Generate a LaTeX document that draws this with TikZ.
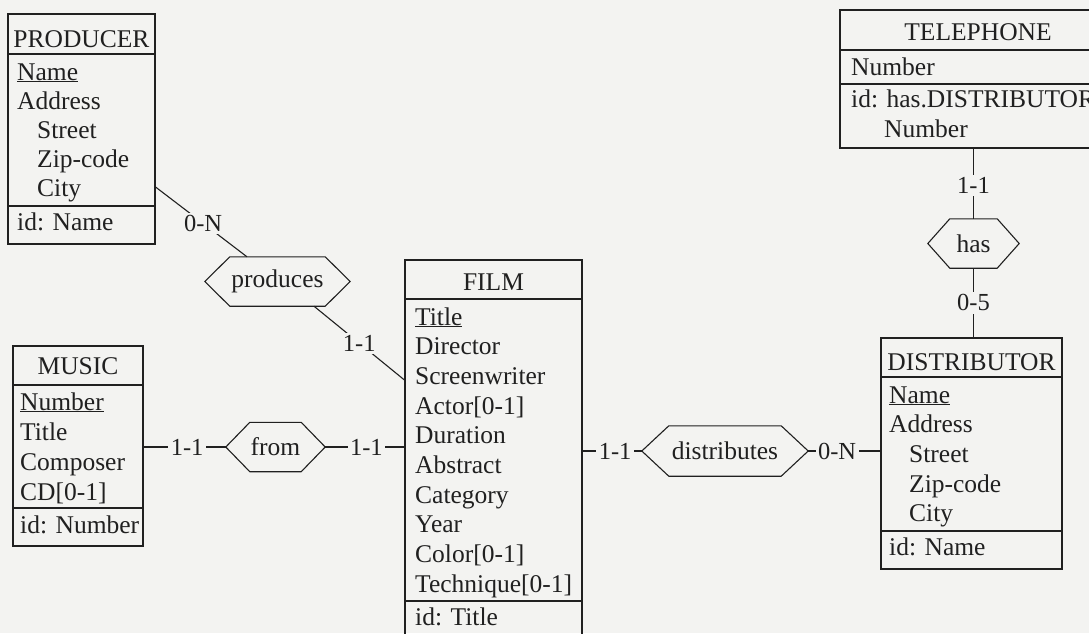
\documentclass[tikz,border=0pt]{standalone}
\usepackage{fontspec}
\setmainfont{Liberation Serif}
\definecolor{bg}{RGB}{243,243,241}
\definecolor{ink}{RGB}{32,32,32}
\tikzset{
  ent/.style={draw=ink, line width=1.1pt, inner sep=0pt, rectangle},
  sep/.style={draw=ink, line width=1.1pt},
  txt/.style={inner sep=0pt, anchor=base west, text=ink, font=\fontsize{25.5pt}{30pt}\selectfont},
  ttl/.style={txt, anchor=base},
  hex/.style={inner sep=0pt, minimum height=49pt, text=ink, font=\fontsize{25.5pt}{30pt}\selectfont},
  lbl/.style={fill=bg, inner sep=2.5pt, text=ink, font=\fontsize{24.5pt}{28pt}\selectfont},
  con/.style={draw=ink, line width=1.1pt},
}
\begin{document}
\begin{tikzpicture}[x=1pt,y=-1pt]
\useasboundingbox (0,0) rectangle (1089,633);
\fill[bg] (0,0) rectangle (1089,633);
\clip (0,0) rectangle (1089,633);

% ---------- entities ----------
\node[ent, minimum width=147pt, minimum height=230pt] (producer) at (81.5,129) {};
\draw[sep] (producer.west |- 0,54) -- (producer.east |- 0,54);
\draw[sep] (producer.west |- 0,206) -- (producer.east |- 0,206);
\node[ttl] (producer-t) at (81.5,47) {PRODUCER};
\node[txt] (producer-a1) at (17,80) {\underline{Name}};
\node[txt] (producer-a2) at (17,109) {Address};
\node[txt] (producer-a3) at (37,138) {Street};
\node[txt] (producer-a4) at (37,167) {Zip-code};
\node[txt] (producer-a5) at (37,196) {City};
\node[txt] (producer-id) at (17,230) {id: Name};

\node[ent, minimum width=130pt, minimum height=200pt] (music) at (78,446) {};
\draw[sep] (music.west |- 0,385) -- (music.east |- 0,385);
\draw[sep] (music.west |- 0,508) -- (music.east |- 0,508);
\node[ttl] (music-t) at (78,374) {MUSIC};
\node[txt] (music-a1) at (20,410) {\underline{Number}};
\node[txt] (music-a2) at (20,440) {Title};
\node[txt] (music-a3) at (20,470) {Composer};
\node[txt] (music-a4) at (20,500) {CD[0-1]};
\node[txt] (music-id) at (20,533) {id: Number};

\node[ent, minimum width=177pt, minimum height=390pt] (film) at (493.5,455) {};
\draw[sep] (film.west |- 0,299) -- (film.east |- 0,299);
\draw[sep] (film.west |- 0,601) -- (film.east |- 0,601);
\node[ttl] (film-t) at (493.5,290) {FILM};
\node[txt] (film-a1) at (415,325) {\underline{Title}};
\node[txt] (film-a2) at (415,354.7) {Director};
\node[txt] (film-a3) at (415,384.3) {Screenwriter};
\node[txt] (film-a4) at (415,414) {Actor[0-1]};
\node[txt] (film-a5) at (415,443.7) {Duration};
\node[txt] (film-a6) at (415,473.3) {Abstract};
\node[txt] (film-a7) at (415,503) {Category};
\node[txt] (film-a8) at (415,532.7) {Year};
\node[txt] (film-a9) at (415,562.3) {Color[0-1]};
\node[txt] (film-a10) at (415,592) {Technique[0-1]};
\node[txt] (film-id) at (415,625) {id: Title};

\node[ent, minimum width=276pt, minimum height=138pt] (telephone) at (978,79) {};
\draw[sep] (telephone.west |- 0,50) -- (telephone.east |- 0,50);
\draw[sep] (telephone.west |- 0,84) -- (telephone.east |- 0,84);
\node[ttl] (telephone-t) at (978,40) {TELEPHONE};
\node[txt] (telephone-a1) at (851,75) {Number};
\node[txt] (telephone-id1) at (851,107) {id: has.DISTRIBUTOR};
\node[txt] (telephone-id2) at (884,137) {Number};

\node[ent, minimum width=181pt, minimum height=231pt] (distributor) at (971.5,453.5) {};
\draw[sep] (distributor.west |- 0,377) -- (distributor.east |- 0,377);
\draw[sep] (distributor.west |- 0,531) -- (distributor.east |- 0,531);
\node[ttl] (distributor-t) at (971.5,370) {DISTRIBUTOR};
\node[txt] (distributor-a1) at (889,403) {\underline{Name}};
\node[txt] (distributor-a2) at (889,432) {Address};
\node[txt] (distributor-a3) at (909,462) {Street};
\node[txt] (distributor-a4) at (909,492) {Zip-code};
\node[txt] (distributor-a5) at (909,521) {City};
\node[txt] (distributor-id) at (889,555) {id: Name};

% ---------- relationships ----------
\node[hex, minimum width=145pt] (produces) at (277.5,281.5) {produces};
\node[hex, minimum width=99pt] (from) at (275.5,447) {from};
\node[hex, minimum width=166pt, minimum height=50pt] (distributes) at (725,451) {distributes};
\node[hex, minimum width=91pt] (has) at (973.5,243.5) {has};
\foreach \n/\d in {produces/25, from/24, distributes/27, has/22}{
  \draw[con] (\n.west) -- ([xshift=\d pt]\n.north west) -- ([xshift=-\d pt]\n.north east)
    -- (\n.east) -- ([xshift=-\d pt]\n.south east) -- ([xshift=\d pt]\n.south west) -- cycle;
}

% ---------- connectors ----------
\draw[con] (producer.east |- 0,187) -- (produces.north -| 247,0) node[lbl, pos=0.52] (c1) {0-N};
\draw[con] (produces.south -| 314,0) -- (film.west |- 0,380) node[lbl, pos=0.5] (c2) {1-1};
\draw[con] (music.east |- from.west) -- (from.west) node[lbl, pos=0.53] (c3) {1-1};
\draw[con] (from.east) -- (film.west |- from.east) node[lbl, pos=0.52] (c4) {1-1};
\draw[con] (film.east |- distributes.west) -- (distributes.west) node[lbl, pos=0.55] (c5) {1-1};
\draw[con] (distributes.east) -- (distributor.west |- distributes.east) node[lbl, pos=0.4] (c6) {0-N};
\draw[con] (telephone.south -| has.north) -- (has.north) node[lbl, pos=0.52] (c7) {1-1};
\draw[con] (has.south) -- (distributor.north -| has.south) node[lbl, pos=0.5] (c8) {0-5};
\end{tikzpicture}
\end{document}
